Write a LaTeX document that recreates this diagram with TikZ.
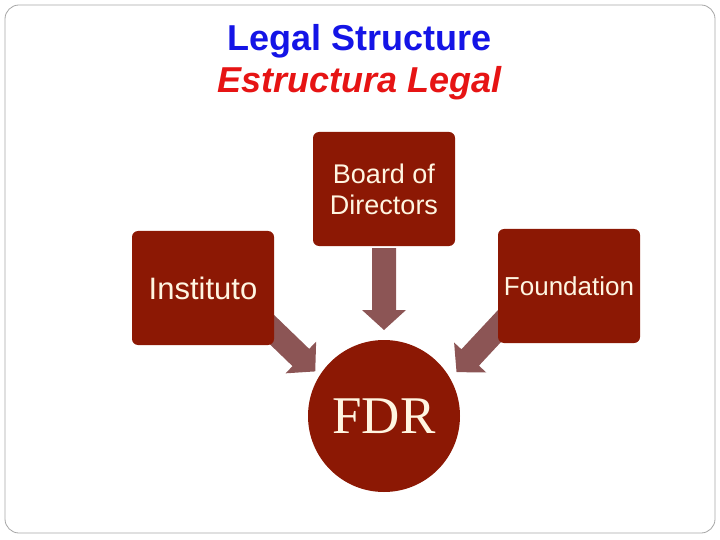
\documentclass[tikz,border=0pt]{standalone}
\usepackage{fontspec}
\setmainfont{Liberation Sans}
\newfontfamily\serifx{Liberation Serif}
\definecolor{boxred}{RGB}{140,24,4}
\definecolor{arrowc}{RGB}{140,85,85}
\definecolor{txtc}{RGB}{255,245,225}
\definecolor{titleblue}{RGB}{20,20,230}
\definecolor{titlered}{RGB}{230,20,20}
\tikzset{
  box/.style={fill=boxred, rounded corners=6pt, minimum width=142pt, minimum height=114pt, text=txtc, align=center, inner sep=0pt},
  arrfill/.style={fill=arrowc}
}
\newcommand{\fatarrow}[1]{\fill[arrfill] (0,-12) -- (#1-20,-12) -- (#1-20,-22) -- (#1,0) -- (#1-20,22) -- (#1-20,12) -- (0,12) -- cycle;}
\begin{document}
\begin{tikzpicture}[x=1pt,y=-1pt]
\useasboundingbox (0,0) rectangle (720,540);
\draw[gray!70, rounded corners=14pt, line width=0.8pt] (5,5) rectangle (715,533);
\node[font=\bfseries\fontsize{36}{40}\selectfont, text=titleblue] (t1) at (360,41) {Legal Structure};
\node[font=\bfseries\itshape\fontsize{36}{40}\selectfont, text=titlered] (t2) at (360,83) {Estructura Legal};
\begin{scope}[shift={(384,248)}, rotate=-90]\fatarrow{82}\end{scope}
\begin{scope}[shift={(262,320)}, rotate=-44]\fatarrow{74}\end{scope}
\begin{scope}[shift={(507,318)}, rotate=-133]\fatarrow{74}\end{scope}
\node[box, font=\fontsize{27}{31}\selectfont] (bod) at (384,189) {Board of\\Directors};
\node[box, font=\fontsize{31}{35}\selectfont] (ins) at (203,288) {Instituto};
\node[box, font=\fontsize{26}{30}\selectfont] (fou) at (569,286) {Foundation};
\node[circle, fill=boxred, minimum size=152pt, inner sep=0pt, text=txtc, font=\serifx\fontsize{53}{57}\selectfont] (fdr) at (384,416) {FDR};
\end{tikzpicture}
\end{document}
